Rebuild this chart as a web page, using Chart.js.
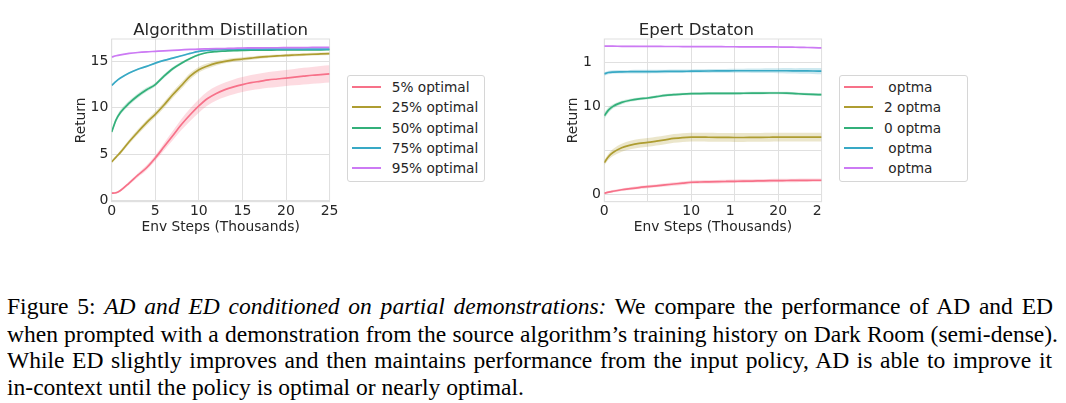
<!DOCTYPE html>
<html>
<head>
<meta charset="utf-8">
<script src="https://cdn.jsdelivr.net/npm/chart.js@4.4.0/dist/chart.umd.min.js"></script>
<style>
  body { margin: 0; background: #fff; width: 1066px; height: 403px; position: relative; overflow: hidden; font-family: "DejaVu Sans", sans-serif; }
  canvas { position: absolute; top: 0; }
  .legendbox { position: absolute; border: 1px solid #d6d6d6; border-radius: 3px; box-sizing: border-box; background: #fff; }
  .swatch { position: absolute; height: 2px; width: 29px; }
  .ltext { position: absolute; font-size: 13.7px; line-height: 16px; color: #262626; white-space: pre; }
  .cap { position: absolute; left: 7px; font-family: "Liberation Serif", serif; font-size: 24px; line-height: 24px; white-space: nowrap; color: #000; transform-origin: 0 0; }
</style>
</head>
<body>
<canvas id="ad" width="280" height="240" style="left:60px"></canvas>
<canvas id="ed" width="280" height="240" style="left:552px"></canvas>

<script>
// Start Data
const steps = [0, 0.5, 1, 2, 3, 4, 5, 6, 7, 8, 9, 10, 11, 12, 13, 14, 15, 16, 17, 18, 19, 20, 21, 22, 23, 24, 25];

const adLabels = ['5% optimal', '25% optimal', '50% optimal', '75% optimal', '95% optimal'];
const edLabels = [' optma', '2 optma', '0 optma', ' optma', ' optma'];

const adXTickLabels = ['0', '5', '10', '15', '20', '25'];
const adYTickLabels = ['0', '5', '10', '15'];
const edXTickLabels = ['0', '', '10', '1\u2007', '20', '2\u2007'];
const edYTickLabels = ['0', '', '10', '1\u2007'];

// Algorithm Distillation
const ad5 = [0.82, 0.86, 1.1, 1.9, 2.75, 3.55, 4.6, 5.8, 7.0, 8.2, 9.25, 10.2, 11.0, 11.55, 11.95, 12.25, 12.5, 12.7, 12.85, 13.0, 13.1, 13.2, 13.3, 13.4, 13.5, 13.57, 13.64];
const ad25 = [4.18, 4.7, 5.2, 6.35, 7.4, 8.4, 9.3, 10.3, 11.4, 12.4, 13.4, 14.1, 14.5, 14.8, 15.0, 15.15, 15.25, 15.35, 15.45, 15.52, 15.58, 15.64, 15.68, 15.72, 15.76, 15.79, 15.82];
const ad50 = [7.4, 8.7, 9.5, 10.5, 11.3, 11.95, 12.5, 13.4, 14.2, 14.8, 15.3, 15.7, 15.95, 16.05, 16.1, 16.15, 16.18, 16.2, 16.2, 16.21, 16.22, 16.22, 16.23, 16.23, 16.24, 16.24, 16.25];
const ad75 = [12.4, 12.85, 13.2, 13.75, 14.15, 14.45, 14.8, 15.1, 15.35, 15.6, 15.85, 16.07, 16.18, 16.25, 16.28, 16.3, 16.3, 16.31, 16.31, 16.31, 16.32, 16.32, 16.32, 16.32, 16.32, 16.32, 16.32];
const ad95 = [15.46, 15.6, 15.7, 15.85, 15.95, 16.02, 16.07, 16.12, 16.18, 16.23, 16.28, 16.32, 16.34, 16.36, 16.38, 16.4, 16.43, 16.44, 16.45, 16.46, 16.46, 16.47, 16.48, 16.48, 16.49, 16.49, 16.5];

const ad5Sd = [0.1, 0.1, 0.12, 0.18, 0.22, 0.26, 0.3, 0.4, 0.5, 0.6, 0.68, 0.72, 0.75, 0.76, 0.78, 0.8, 0.8, 0.82, 0.83, 0.85, 0.86, 0.86, 0.88, 0.9, 0.9, 0.92, 0.93];
const ad25Sd = [0.1, 0.15, 0.2, 0.25, 0.28, 0.3, 0.3, 0.32, 0.35, 0.35, 0.35, 0.3, 0.28, 0.25, 0.22, 0.2, 0.2, 0.18, 0.17, 0.16, 0.15, 0.15, 0.15, 0.15, 0.15, 0.15, 0.15];
const ad50Sd = [0.2, 0.25, 0.25, 0.25, 0.25, 0.22, 0.2, 0.2, 0.18, 0.15, 0.12, 0.1, 0.08, 0.07, 0.06, 0.06, 0.06, 0.06, 0.06, 0.06, 0.06, 0.06, 0.06, 0.06, 0.06, 0.06, 0.06];
const ad75Sd = [0.08, 0.08, 0.08, 0.08, 0.08, 0.08, 0.08, 0.08, 0.08, 0.08, 0.08, 0.07, 0.06, 0.06, 0.06, 0.06, 0.06, 0.06, 0.06, 0.06, 0.06, 0.06, 0.06, 0.06, 0.06, 0.06, 0.06];
const ad95Sd = [0.05, 0.05, 0.05, 0.05, 0.05, 0.05, 0.05, 0.05, 0.05, 0.05, 0.05, 0.05, 0.05, 0.05, 0.05, 0.05, 0.05, 0.05, 0.05, 0.05, 0.05, 0.05, 0.05, 0.05, 0.05, 0.05, 0.05];

// Expert Distillation
const ed5 = [0.11, 0.25, 0.35, 0.52, 0.65, 0.77, 0.87, 0.97, 1.07, 1.17, 1.27, 1.37, 1.4, 1.42, 1.44, 1.46, 1.48, 1.5, 1.51, 1.53, 1.55, 1.56, 1.57, 1.58, 1.59, 1.6, 1.6];
const ed25 = [3.6, 4.3, 4.75, 5.3, 5.6, 5.8, 5.9, 6.05, 6.2, 6.35, 6.45, 6.5, 6.5, 6.49, 6.48, 6.47, 6.46, 6.46, 6.47, 6.48, 6.49, 6.5, 6.5, 6.5, 6.5, 6.5, 6.5];
const ed50 = [8.93, 9.6, 10.0, 10.45, 10.7, 10.85, 10.95, 11.1, 11.25, 11.33, 11.4, 11.44, 11.46, 11.47, 11.47, 11.48, 11.48, 11.49, 11.5, 11.51, 11.52, 11.52, 11.5, 11.45, 11.4, 11.36, 11.33];
const ed75 = [13.69, 13.85, 13.9, 13.93, 13.94, 13.95, 13.95, 13.96, 13.97, 13.98, 13.99, 14.0, 14.01, 14.02, 14.03, 14.04, 14.05, 14.05, 14.05, 14.05, 14.05, 14.05, 14.05, 14.04, 14.03, 14.02, 14.0];
const ed95 = [16.84, 16.84, 16.84, 16.83, 16.83, 16.82, 16.82, 16.82, 16.81, 16.81, 16.8, 16.8, 16.8, 16.79, 16.79, 16.78, 16.78, 16.77, 16.77, 16.76, 16.76, 16.75, 16.74, 16.72, 16.7, 16.68, 16.65];

const ed5Sd = [0.12, 0.13, 0.14, 0.15, 0.16, 0.17, 0.18, 0.18, 0.19, 0.19, 0.2, 0.2, 0.2, 0.2, 0.2, 0.2, 0.2, 0.2, 0.2, 0.2, 0.2, 0.2, 0.2, 0.2, 0.2, 0.2, 0.2];
const ed25Sd = [0.3, 0.35, 0.4, 0.45, 0.48, 0.5, 0.5, 0.5, 0.5, 0.5, 0.5, 0.5, 0.5, 0.5, 0.5, 0.5, 0.5, 0.5, 0.5, 0.5, 0.5, 0.5, 0.5, 0.5, 0.5, 0.5, 0.5];
const ed50Sd = [0.35, 0.3, 0.25, 0.2, 0.18, 0.16, 0.15, 0.15, 0.15, 0.15, 0.15, 0.15, 0.15, 0.15, 0.15, 0.15, 0.15, 0.15, 0.15, 0.15, 0.15, 0.15, 0.15, 0.15, 0.15, 0.15, 0.15];
const ed75Sd = [0.2, 0.2, 0.2, 0.2, 0.2, 0.2, 0.2, 0.2, 0.2, 0.2, 0.2, 0.2, 0.2, 0.22, 0.22, 0.22, 0.24, 0.24, 0.25, 0.26, 0.27, 0.28, 0.3, 0.3, 0.32, 0.33, 0.35];
const ed95Sd = [0.05, 0.05, 0.05, 0.05, 0.05, 0.05, 0.05, 0.05, 0.05, 0.05, 0.05, 0.05, 0.05, 0.05, 0.05, 0.05, 0.05, 0.05, 0.05, 0.05, 0.05, 0.05, 0.05, 0.05, 0.05, 0.05, 0.05];
// End Data

const colors = ['#f77189', '#ae9d31', '#33b07a', '#38a9c5', '#cc7af4'];
const gridColor = '#e0e0e0';
const textColor = '#262626';

Chart.defaults.font.family = '"DejaVu Sans", sans-serif';
Chart.defaults.color = textColor;

function fade(hex, a) {
  const n = parseInt(hex.slice(1), 16);
  return 'rgba(' + (n >> 16) + ',' + ((n >> 8) & 255) + ',' + (n & 255) + ',' + a + ')';
}

function points(vals, sd, sign) {
  return steps.map((x, i) => ({ x: x, y: vals[i] + sign * sd[i] }));
}

function buildDatasets(means, sds) {
  const sets = [];
  // mean lines first so they are drawn on top, last series on top
  for (let k = means.length - 1; k >= 0; k--) {
    sets.push({ data: points(means[k], sds[k], 0), borderColor: colors[k], borderWidth: 1.7,
      pointRadius: 0, fill: false, cubicInterpolationMode: 'monotone' });
  }
  for (let k = 0; k < means.length; k++) {
    sets.push({ data: points(means[k], sds[k], -1), borderWidth: 0, borderColor: 'rgba(0,0,0,0)',
      pointRadius: 0, fill: false, cubicInterpolationMode: 'monotone' });
    sets.push({ data: points(means[k], sds[k], 1), borderWidth: 0, borderColor: 'rgba(0,0,0,0)',
      pointRadius: 0, fill: '-1', backgroundColor: fade(colors[k], 0.25), cubicInterpolationMode: 'monotone' });
  }
  return sets;
}

// frame round the plot
const frame = {
  id: 'frame',
  beforeDatasetsDraw(chart) {
    const a = chart.chartArea, ctx = chart.ctx;
    ctx.save();
    ctx.strokeStyle = gridColor;
    ctx.lineWidth = 1;
    ctx.strokeRect(a.left, a.top, a.width, a.height);
    ctx.restore();
  }
};

function makeChart(id, title, means, sds, yMin, yMax, xTicks, yTicks, yAxisWidth) {
  return new Chart(document.getElementById(id), {
    type: 'line',
    data: { datasets: buildDatasets(means, sds) },
    options: {
      responsive: false,
      animation: false,
      layout: { padding: { left: 0, right: 7, top: 0, bottom: 0 } },
      plugins: {
        legend: { display: false },
        tooltip: { enabled: false },
        title: { display: true, text: title, fullSize: false, color: textColor,
          font: { size: 16.6, weight: 'normal', lineHeight: 1 }, padding: { top: 22.4, bottom: 0 } }
      },
      scales: {
        x: {
          type: 'linear', min: 0, max: 25,
          ticks: { stepSize: 5, includeBounds: false, padding: 1.5, font: { size: 14 }, color: textColor,
            callback: v => xTicks[Math.round(v / 5)], maxRotation: 0, autoSkip: false },
          grid: { color: gridColor, drawTicks: false },
          border: { color: gridColor },
          title: { display: true, text: 'Env Steps (Thousands)', font: { size: 13.8 }, color: textColor,
            padding: { top: 0, bottom: 4.4 } },
          afterFit: s => { s.height = 38.3; }
        },
        y: {
          min: yMin, max: yMax,
          ticks: { stepSize: 5, includeBounds: false, padding: 3.4, font: { size: 14 }, color: textColor,
            callback: v => yTicks[Math.round(v / 5)] },
          grid: { color: gridColor, drawTicks: false },
          border: { color: gridColor },
          title: { display: true, text: 'Return', font: { size: 13.8 }, color: textColor,
            padding: { top: 13.3, bottom: 0 } },
          afterFit: s => { s.width = yAxisWidth; }
        }
      }
    },
    plugins: [frame]
  });
}

makeChart('ad', 'Algorithm Distillation', [ad5, ad25, ad50, ad75, ad95],
  [ad5Sd, ad25Sd, ad50Sd, ad75Sd, ad95Sd], -0.1, 17.4, adXTickLabels, adYTickLabels, 51.7);
makeChart('ed', 'Epert Dstaton\u2003\u2003', [ed5, ed25, ed50, ed75, ed95],
  [ed5Sd, ed25Sd, ed50Sd, ed75Sd, ed95Sd], -0.84, 17.66, edXTickLabels, edYTickLabels, 52.3);

// legends
function legend(labels, boxLeft, boxWidth) {
  const box = document.createElement('div');
  box.className = 'legendbox';
  box.style.left = boxLeft + 'px';
  box.style.top = '75px';
  box.style.width = boxWidth + 'px';
  box.style.height = '106.7px';
  document.body.appendChild(box);
  labels.forEach((lab, i) => {
    const cy = 86.7 + i * 20.4;
    const sw = document.createElement('div');
    sw.className = 'swatch';
    sw.style.left = (boxLeft + 5) + 'px';
    sw.style.top = (cy - 1) + 'px';
    sw.style.background = colors[i];
    document.body.appendChild(sw);
    const t = document.createElement('div');
    t.className = 'ltext';
    t.style.left = (boxLeft + 45) + 'px';
    t.style.top = (cy - 8) + 'px';
    t.textContent = lab;
    document.body.appendChild(t);
  });
}
legend(adLabels, 346.7, 138.3);
legend(edLabels, 839, 129.3);

// caption
const captionLines = [
  'Figure 5: <i>AD and ED conditioned on partial demonstrations:</i> We compare the performance of AD and ED',
  'when prompted with a demonstration from the source algorithm\u2019s training history on Dark Room (semi-dense).',
  'While ED slightly improves and then maintains performance from the input policy, AD is able to improve it',
  'in-context until the policy is optimal or nearly optimal.'
];
const captionRight = [1053, 1058, 1052, 524];
const captionBaseline = [314, 341.5, 368, 395];

const capDivs = captionLines.map((html, i) => {
  const d = document.createElement('div');
  d.className = 'cap';
  d.innerHTML = html;
  d.style.top = (captionBaseline[i] - 20) + 'px';
  document.body.appendChild(d);
  return d;
});
const natural = capDivs.map(d => d.getBoundingClientRect().width);
const s = (captionRight[3] - 7) / natural[3];
capDivs.forEach((d, i) => {
  const target = captionRight[i] - 7;
  let k = s;
  if (natural[i] * k > target) k = target / natural[i];
  d.style.transform = 'scaleX(' + k + ')';
  if (i < 3) {
    d.style.width = (target / k) + 'px';
    d.style.textAlign = 'justify';
    d.style.textAlignLast = 'justify';
  }
});
</script>
</body>
</html>
